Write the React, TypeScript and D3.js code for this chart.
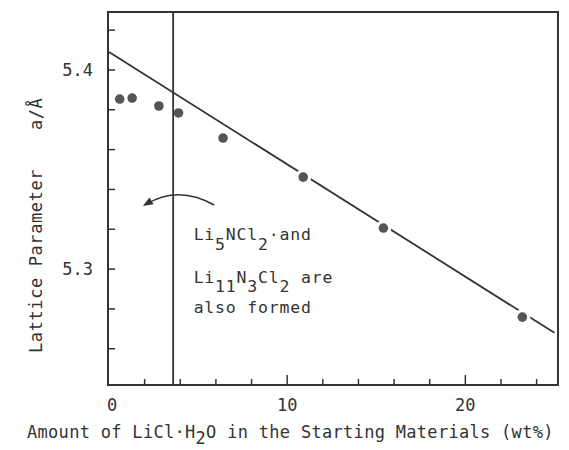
import { useEffect, useRef } from 'react';
import * as d3 from 'd3';

// measured lattice parameter vs LiCl·H2O content
const pctLiCl = [0.6, 1.3, 2.8, 3.9, 6.4, 10.9, 15.4, 23.2];
const latticeA = [5.3854, 5.3859, 5.3819, 5.3784, 5.3658, 5.3462, 5.3206, 5.2759];

// straight fit line drawn through the high-content points
const fitX = [0, 25];
const fitA = [5.409, 5.268];

// phase boundary (vertical line)
const boundaryX = 3.6;

const xMinorTicks = d3.range(0, 25, 2);
const xTickLabels = [0, 10, 20];
const yMinorTicks = [5.26, 5.28, 5.3, 5.32, 5.34, 5.36, 5.38, 5.4, 5.42];
const yTickLabels = [5.3, 5.4];

// curved arrow (data units): start, control, end
const arrowPts: [number, number][] = [
  [5.9, 5.3322],
  [3.9, 5.3422],
  [1.9, 5.3317],
];

const ink = '#333';
const font = "'DejaVu Sans Mono', monospace";

export default function App() {
  const svgRef = useRef<SVGSVGElement>(null);

  useEffect(() => {
    if (!svgRef.current) return;
    const svg = d3.select(svgRef.current);
    svg.selectAll('*').remove();

    const left = 108;
    const right = 558;
    const top = 12;
    const bottom = 385;

    const x = d3.scaleLinear().domain([0, 25.2]).range([109, right]);
    const y = d3.scaleLinear().domain([5.2418, 5.4291]).range([bottom, top]);

    const g = svg.append('g');

    // frame
    g.append('rect')
      .attr('x', left)
      .attr('y', top)
      .attr('width', right - left)
      .attr('height', bottom - top)
      .attr('fill', 'none')
      .attr('stroke', ink)
      .attr('stroke-width', 2);

    // y ticks (inward)
    g.selectAll('.yt')
      .data(yMinorTicks)
      .enter()
      .append('line')
      .attr('x1', left)
      .attr('x2', left + 7)
      .attr('y1', (d) => y(d))
      .attr('y2', (d) => y(d))
      .attr('stroke', ink)
      .attr('stroke-width', 1.5);

    // x ticks (inward)
    g.selectAll('.xt')
      .data(xMinorTicks.slice(1))
      .enter()
      .append('line')
      .attr('x1', (d) => x(d))
      .attr('x2', (d) => x(d))
      .attr('y1', bottom)
      .attr('y2', (d) => bottom - (d % 10 === 0 ? 10 : 6))
      .attr('stroke', ink)
      .attr('stroke-width', 1.5);

    // tick labels
    g.selectAll('.xl')
      .data(xTickLabels)
      .enter()
      .append('text')
      .attr('x', (d) => x(d) + (d === 0 ? 3 : 0))
      .attr('y', 411)
      .attr('text-anchor', 'middle')
      .attr('font-family', font)
      .attr('font-size', 17)
      .attr('fill', ink)
      .text((d) => String(d));

    g.selectAll('.yl')
      .data(yTickLabels)
      .enter()
      .append('text')
      .attr('x', 93)
      .attr('y', (d) => y(d) + 6)
      .attr('text-anchor', 'end')
      .attr('font-family', font)
      .attr('font-size', 17)
      .attr('fill', ink)
      .text((d) => d.toFixed(1));

    // fit line
    g.append('line')
      .attr('x1', x(fitX[0]))
      .attr('y1', y(fitA[0]))
      .attr('x2', x(fitX[1]))
      .attr('y2', y(fitA[1]))
      .attr('stroke', ink)
      .attr('stroke-width', 1.8);

    const pts = pctLiCl.map((v, i) => ({ x: v, a: latticeA[i] }));
    const fitAt = d3.scaleLinear().domain(fitX).range(fitA);

    // white gaps where points sit on the fit line
    g.selectAll('.halo')
      .data(pts.filter((d) => Math.abs(y(fitAt(d.x)) - y(d.a)) < 6))
      .enter()
      .append('circle')
      .attr('cx', (d) => x(d.x))
      .attr('cy', (d) => y(d.a))
      .attr('r', 8)
      .attr('fill', '#fff');

    g.selectAll('.pt')
      .data(pts)
      .enter()
      .append('circle')
      .attr('cx', (d) => x(d.x))
      .attr('cy', (d) => y(d.a))
      .attr('r', 4.8)
      .attr('fill', '#555');

    // boundary line
    g.append('line')
      .attr('x1', x(boundaryX))
      .attr('x2', x(boundaryX))
      .attr('y1', top)
      .attr('y2', bottom)
      .attr('stroke', ink)
      .attr('stroke-width', 1.8);

    // curved arrow
    const [p0, p1, p2] = arrowPts.map(([dx, da]) => [x(dx), y(da)]);
    const path = d3.path();
    path.moveTo(p0[0], p0[1]);
    path.quadraticCurveTo(p1[0], p1[1], p2[0] + 4, p2[1] - 2);
    g.append('path')
      .attr('d', path.toString())
      .attr('fill', 'none')
      .attr('stroke', ink)
      .attr('stroke-width', 1.5);
    const ang = (Math.atan2(p2[1] - p1[1], p2[0] - p1[0]) * 180) / Math.PI;
    g.append('path')
      .attr('d', 'M0,0 L-10,-4 L-10,4 Z')
      .attr('transform', `translate(${p2[0]},${p2[1]}) rotate(${ang})`)
      .attr('fill', ink);

    // annotation text
    const ax = x(4.75);
    const ty = y(5.3146);
    const note = g
      .append('g')
      .attr('font-family', font)
      .attr('font-size', 16.5)
      .attr('letter-spacing', 0.8)
      .attr('fill', ink);

    const line1 = note.append('text').attr('x', ax).attr('y', ty);
    line1.append('tspan').text('Li');
    line1.append('tspan').attr('dy', 10).text('5');
    line1.append('tspan').attr('dy', -10).text('NCl');
    line1.append('tspan').attr('dy', 10).text('2');
    line1.append('tspan').attr('dy', -10).text('·and');

    const line2 = note.append('text').attr('x', ax).attr('y', ty + 43);
    line2.append('tspan').text('Li');
    line2.append('tspan').attr('dy', 9).text('11');
    line2.append('tspan').attr('dy', -9).text('N');
    line2.append('tspan').attr('dy', 9).text('3');
    line2.append('tspan').attr('dy', -9).text('Cl');
    line2.append('tspan').attr('dy', 9).text('2');
    line2.append('tspan').attr('dy', -9).text(' are');

    note.append('text').attr('x', ax).attr('y', ty + 73).text('also formed');

    // axis titles
    const xt = g
      .append('text')
      .attr('x', 27)
      .attr('y', 438)
      .attr('font-family', font)
      .attr('font-size', 17)
      .attr('letter-spacing', 0.3)
      .attr('fill', ink);
    xt.append('tspan').text('Amount of LiCl·H');
    xt.append('tspan').attr('dy', 6).text('2');
    xt.append('tspan').attr('dy', -6).text('O in the Starting Materials (wt%)');

    g.append('text')
      .attr('transform', 'translate(42,353) rotate(-90)')
      .attr('font-family', font)
      .attr('font-size', 17)
      .attr('letter-spacing', 0.6)
      .attr('fill', ink)
      .text('Lattice Parameter');

    g.append('text')
      .attr('transform', 'translate(42,130) rotate(-90)')
      .attr('font-family', font)
      .attr('font-size', 17)
      .attr('letter-spacing', 0.5)
      .attr('fill', ink)
      .text('a/Å');
  }, []);

  return (
    <svg
      ref={svgRef}
      width={569}
      height={450}
      style={{ position: 'absolute', left: 0, top: 0, background: '#fff' }}
    ></svg>
  );
}
